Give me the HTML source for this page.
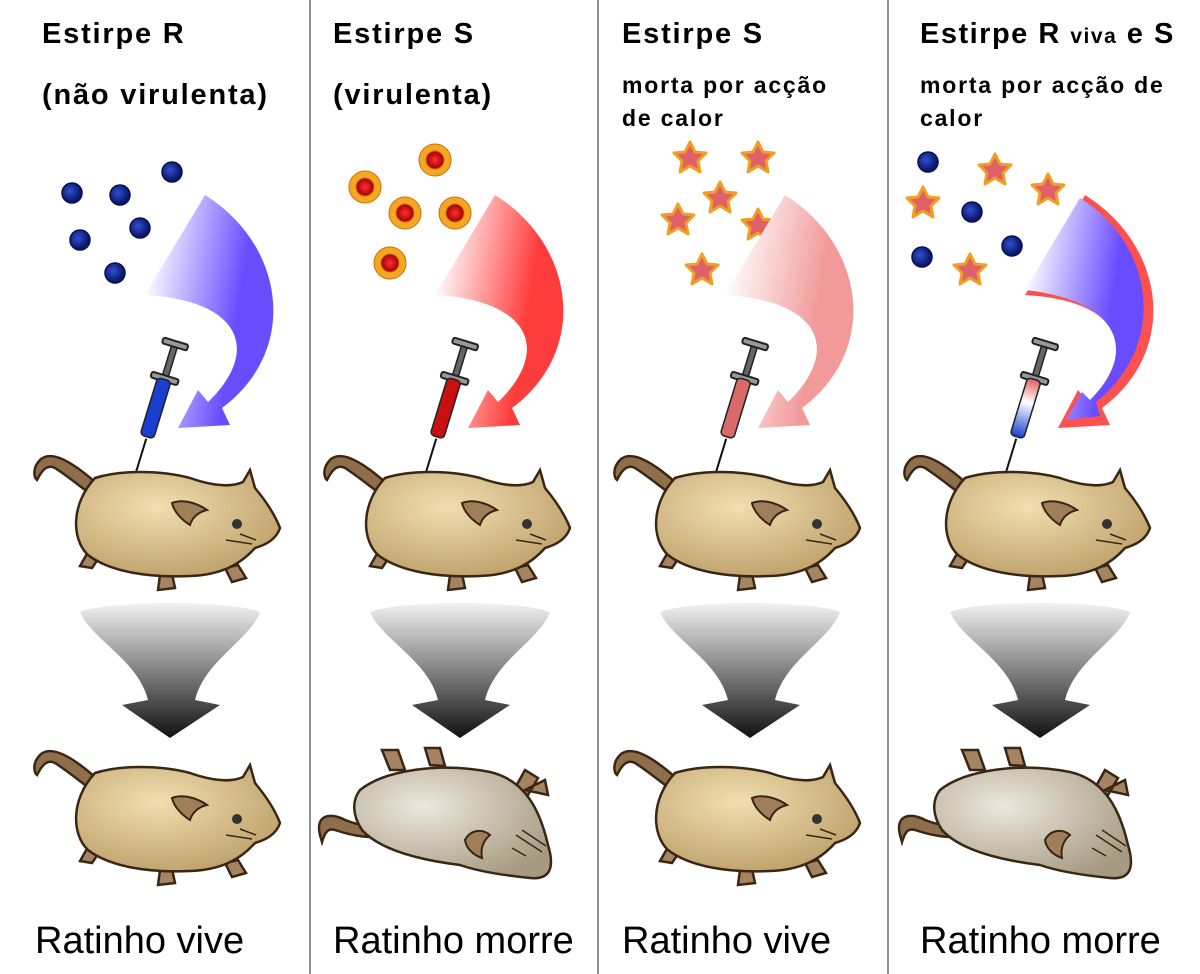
<!DOCTYPE html>
<html><head><meta charset="utf-8"><style>
html,body{margin:0;padding:0;background:#fff}
svg{display:block}
</style></head><body>
<svg width="1200" height="974" viewBox="0 0 1200 974" xmlns="http://www.w3.org/2000/svg" font-family="Liberation Sans, sans-serif">
<defs>
<radialGradient id="tan" cx="0.4" cy="0.35" r="0.7"><stop offset="0" stop-color="#f0dfb0"/><stop offset="1" stop-color="#bea06a"/></radialGradient>
<radialGradient id="grey" cx="0.35" cy="0.35" r="0.75"><stop offset="0" stop-color="#ece8df"/><stop offset="1" stop-color="#a69a80"/></radialGradient>
<linearGradient id="fun" x1="0" y1="0" x2="0" y2="1"><stop offset="0" stop-color="#f2f2f2"/><stop offset="1" stop-color="#111"/></linearGradient>
<linearGradient id="ab" x1="0" y1="0" x2="1" y2="0.3"><stop offset="0.1" stop-color="#fff"/><stop offset="0.8" stop-color="#6a4cff"/></linearGradient>
<linearGradient id="ar" x1="0" y1="0" x2="1" y2="0.3"><stop offset="0.1" stop-color="#fff"/><stop offset="0.8" stop-color="#ff3c3c"/></linearGradient>
<linearGradient id="ap" x1="0" y1="0" x2="1" y2="0.3"><stop offset="0.1" stop-color="#fff"/><stop offset="0.8" stop-color="#f29a9a"/></linearGradient>
<radialGradient id="redc"><stop offset="0" stop-color="#ff3030"/><stop offset="1" stop-color="#a00000"/></radialGradient>
<radialGradient id="bluec" cx="0.4" cy="0.4"><stop offset="0" stop-color="#3050d0"/><stop offset="1" stop-color="#0a1a70"/></radialGradient>
<g id="mouse">
<path d="M95,482 C70,460 50,450 40,460 C32,468 34,478 37,480 C42,470 48,462 58,470 C70,478 82,488 92,495 Z" fill="#8f6e4c" stroke="#3a2614" stroke-width="2.5"/>
<path d="M88,552 L80,566 L92,568 L100,556 Z M160,575 L158,590 L175,588 L172,574 Z M225,568 L232,582 L246,578 L238,565 Z" fill="#a58462" stroke="#3a2614" stroke-width="2.5"/>
<path d="M95,478 C120,470 160,470 190,478 C210,485 230,488 243,482 L250,470 L255,488 C265,500 275,515 280,528 C276,540 265,545 255,548 C240,565 220,575 190,576 C150,578 110,572 88,555 C72,540 70,505 95,478 Z" fill="url(#tan)" stroke="#3a2614" stroke-width="2.5"/>
<path d="M172,503 C185,498 200,505 207,510 C198,512 192,518 190,525 C182,520 174,512 172,503 Z" fill="#a07e5a" stroke="#3a2614" stroke-width="2"/>
<circle cx="237" cy="524" r="5" fill="#333"/>
<path d="M226,540 L252,544 M240,534 L256,540" stroke="#3a2614" stroke-width="1.5"/>
</g>
<g id="dead">
<path d="M30,835 C25,815 40,812 55,820 C70,826 85,828 100,825 L102,835 C80,840 60,835 45,830 C38,828 35,832 32,842 Z" fill="#8f6e4c" stroke="#3a2614" stroke-width="2.5"/>
<path d="M100,770 L92,750 L108,750 L115,770 Z M140,765 L135,748 L150,748 L155,766 Z M225,788 L235,770 L248,778 L238,795 Z M235,790 L255,780 L258,795 Z" fill="#a58462" stroke="#3a2614" stroke-width="2.5"/>
<path d="M70,790 C95,770 150,762 200,772 C235,780 250,810 258,845 C265,868 260,880 240,878 C220,876 190,872 170,865 C130,860 90,850 72,830 C62,815 62,800 70,790 Z" fill="url(#grey)" stroke="#3a2614" stroke-width="2.5"/>
<path d="M175,840 C180,830 192,828 200,835 C194,840 190,848 192,858 C183,855 176,848 175,840 Z" fill="#a07e5a" stroke="#3a2614" stroke-width="2"/>
<path d="M222,848 L236,856 M226,835 L252,852 M232,830 L256,846" stroke="#3a2614" stroke-width="1.5"/>
</g>
<g id="funnel">
<path d="M80,612 C110,600 230,600 260,612 C250,640 205,660 195,700 L220,705 L170,738 L122,705 L148,700 C138,660 92,640 80,612 Z" fill="url(#fun)"/>
</g>
<g id="syr">
<g transform="translate(155,410) rotate(17)">
<rect x="-3" y="-68" width="6" height="36" fill="#666" stroke="#222" stroke-width="1.5"/>
<rect x="-13" y="-72" width="26" height="6" rx="2" fill="#999" stroke="#222" stroke-width="2"/>
<rect x="-14" y="-36" width="28" height="6" rx="2" fill="#999" stroke="#222" stroke-width="2"/>
<line x1="0" y1="30" x2="0" y2="68" stroke="#111" stroke-width="2"/>
</g>
</g>
</defs>

<line x1="310" y1="0" x2="310" y2="974" stroke="#444" stroke-width="1.2"/>
<line x1="598" y1="0" x2="598" y2="974" stroke="#444" stroke-width="1.2"/>
<line x1="888" y1="0" x2="888" y2="974" stroke="#444" stroke-width="1.2"/>

<g font-weight="bold" fill="#000">
<text x="42" y="43" font-size="29" letter-spacing="1.8">Estirpe R</text>
<text x="42" y="104" font-size="29" letter-spacing="1.8">(não virulenta)</text>
<text x="333" y="43" font-size="29" letter-spacing="1.8">Estirpe S</text>
<text x="333" y="104" font-size="29" letter-spacing="1.8">(virulenta)</text>
<text x="622" y="43" font-size="29" letter-spacing="1.8">Estirpe S</text>
<text x="622" y="93" font-size="23" letter-spacing="1.8">morta por acção</text>
<text x="622" y="126" font-size="23" letter-spacing="1.8">de calor</text>
<text x="920" y="43" font-size="29" letter-spacing="1.5">Estirpe R <tspan font-size="21">viva</tspan> e S</text>
<text x="920" y="93" font-size="23" letter-spacing="1.8">morta por acção de</text>
<text x="920" y="126" font-size="23" letter-spacing="1.8">calor</text>
</g>
<g font-size="38" fill="#000">
<text x="35" y="953">Ratinho vive</text>
<text x="333" y="953">Ratinho morre</text>
<text x="622" y="953">Ratinho vive</text>
<text x="920" y="953">Ratinho morre</text>
</g>

<g fill="url(#bluec)" stroke="#061050" stroke-width="1.5">
<circle cx="72" cy="193" r="10"/><circle cx="120" cy="195" r="10"/><circle cx="172" cy="172" r="10"/>
<circle cx="80" cy="240" r="10"/><circle cx="140" cy="228" r="10"/><circle cx="115" cy="273" r="10"/>
</g>
<path d="M205,195 C285,245 300,350 222,408 L230,425 L178,428 L198,390 L208,402 C262,350 240,300 145,295 Z" fill="url(#ab)"/>

<g stroke="#d07000" stroke-width="1">
<circle cx="435" cy="160" r="16" fill="#f5a623"/><circle cx="365" cy="187" r="16" fill="#f5a623"/>
<circle cx="405" cy="213" r="16" fill="#f5a623"/><circle cx="455" cy="213" r="16" fill="#f5a623"/>
<circle cx="390" cy="263" r="16" fill="#f5a623"/>
<circle cx="435" cy="160" r="9" fill="url(#redc)"/><circle cx="365" cy="187" r="9" fill="url(#redc)"/>
<circle cx="405" cy="213" r="9" fill="url(#redc)"/><circle cx="455" cy="213" r="9" fill="url(#redc)"/>
<circle cx="390" cy="263" r="9" fill="url(#redc)"/>
</g>
<path d="M495,195 C575,245 590,350 512,408 L520,425 L468,428 L488,390 L498,402 C552,350 530,300 435,295 Z" fill="url(#ar)"/>

<g fill="#e0606a" stroke="#f0a020" stroke-width="3" stroke-linejoin="round">
<path id="st" d="M0,-16 L5,-6 L16,-5 L8,3 L10,14 L0,8 L-10,14 L-8,3 L-16,-5 L-5,-6 Z" transform="translate(690,158)"/>
<use href="#st" transform="translate(68,0)"/>
<use href="#st" transform="translate(30,40)"/>
<use href="#st" transform="translate(-12,62)"/>
<use href="#st" transform="translate(68,67)"/>
<use href="#st" transform="translate(12,112)"/>
</g>
<path d="M785,195 C865,245 880,350 802,408 L810,425 L758,428 L778,390 L788,402 C842,350 820,300 725,295 Z" fill="url(#ap)"/>

<g fill="#e0606a" stroke="#f0a020" stroke-width="3" stroke-linejoin="round">
<use href="#st" transform="translate(305,12)"/>
<use href="#st" transform="translate(233,45)"/>
<use href="#st" transform="translate(358,32)"/>
<use href="#st" transform="translate(280,112)"/>
</g>
<g fill="url(#bluec)" stroke="#061050" stroke-width="1.5">
<circle cx="928" cy="162" r="10"/><circle cx="972" cy="212" r="10"/><circle cx="1012" cy="246" r="10"/><circle cx="922" cy="257" r="10"/>
</g>
<path d="M1085,195 C1165,245 1180,350 1102,408 L1110,425 L1058,428 L1078,390 L1088,402 C1142,350 1120,300 1025,295 Z" fill="#ff5050"/>
<path d="M1080,198 C1155,245 1168,345 1096,402 L1100,416 L1066,420 L1082,392 L1090,400 C1140,350 1118,300 1025,290 Z" fill="url(#ab)"/>

<use href="#syr"/>
<g transform="translate(155,410) rotate(17)"><rect x="-7" y="-32" width="14" height="60" rx="4" fill="#1a3fd0" stroke="#222" stroke-width="1.5"/></g>
<use href="#syr" transform="translate(290,0)"/>
<g transform="translate(445,410) rotate(17)"><rect x="-7" y="-32" width="14" height="60" rx="4" fill="#c81010" stroke="#222" stroke-width="1.5"/></g>
<use href="#syr" transform="translate(580,0)"/>
<g transform="translate(735,410) rotate(17)"><rect x="-7" y="-32" width="14" height="60" rx="4" fill="#d86a6a" stroke="#222" stroke-width="1.5"/></g>
<use href="#syr" transform="translate(870,0)"/>
<linearGradient id="sm" x1="0" y1="0" x2="0" y2="1"><stop offset="0" stop-color="#e06060"/><stop offset="0.4" stop-color="#fff"/><stop offset="1" stop-color="#1a3fd0"/></linearGradient>
<g transform="translate(1025,410) rotate(17)"><rect x="-7" y="-32" width="14" height="60" rx="4" fill="url(#sm)" stroke="#222" stroke-width="1.5"/></g>

<use href="#mouse"/>
<use href="#mouse" transform="translate(290,0)"/>
<use href="#mouse" transform="translate(580,0)"/>
<use href="#mouse" transform="translate(870,0)"/>
<use href="#funnel"/>
<use href="#funnel" transform="translate(290,0)"/>
<use href="#funnel" transform="translate(580,0)"/>
<use href="#funnel" transform="translate(870,0)"/>
<use href="#mouse" transform="translate(0,295)"/>
<use href="#dead" transform="translate(290,0)"/>
<use href="#mouse" transform="translate(580,295)"/>
<use href="#dead" transform="translate(870,0)"/>
</svg>
</body></html>
